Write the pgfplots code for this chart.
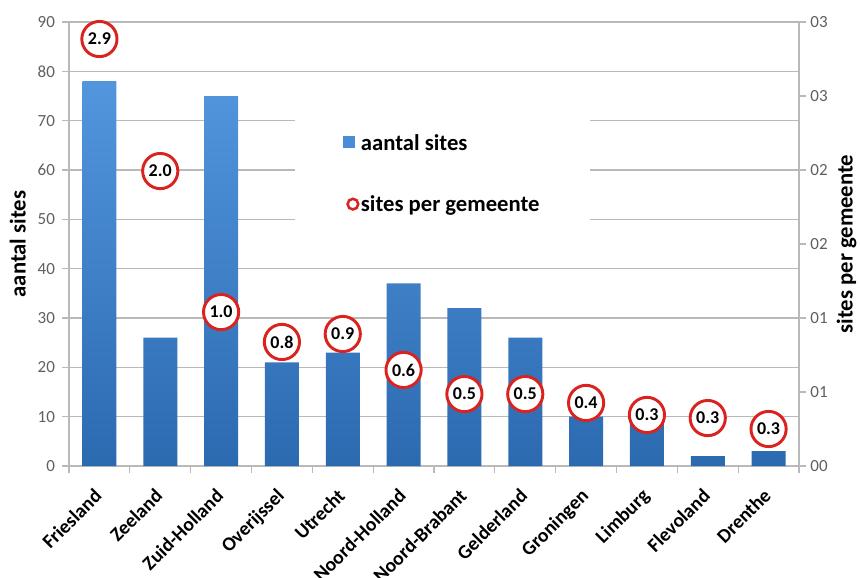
\documentclass[border=0pt]{standalone}
\usepackage{pgfplots}
\pgfplotsset{compat=1.18}
\usepackage{fontspec}
\setmainfont{Carlito}

\definecolor{barTop}{RGB}{82,150,222}
\definecolor{barBot}{RGB}{44,106,176}
\definecolor{ringRed}{RGB}{218,35,30}
\definecolor{gridGray}{RGB}{185,185,185}
\definecolor{tickGray}{RGB}{95,95,95}

% sites per province (left axis) and sites per municipality (right axis)
\pgfplotstableread{
x aantal perg lab
0 78 2.885 2.9
1 26 1.993 2.0
2 75 1.04  1.0
3 21 0.838 0.8
4 23 0.892 0.9
5 37 0.649 0.6
6 32 0.486 0.5
7 26 0.486 0.5
8 10 0.426 0.4
9 10 0.345 0.3
10 2 0.324 0.3
11 3 0.25  0.3
}\provdata

\begin{document}
\begin{tikzpicture}
\pgfplotsset{
  common/.style={
    width=547.5pt, height=333pt, scale only axis,
    xmin=-0.5, xmax=11.5,
    tick align=outside,
    axis line style={gridGray, line width=0.9pt},
    tick style={gridGray, line width=0.9pt},
    major tick length=5pt,
    tick label style={text=tickGray, font=\fontsize{12.75}{15}\selectfont},
    label style={font=\bfseries\fontsize{17}{20}\selectfont},
    /pgf/number format/assume math mode=true,
  }
}
\begin{axis}[
  common,
  axis x line*=bottom, axis y line*=left,
  ymin=0, ymax=90, ytick={0,10,...,90},
  ymajorgrids, grid style={gridGray, line width=1pt},
  xtick={0,...,11},
  xticklabels={Friesland,Zeeland,Zuid-Holland,Overijssel,Utrecht,Noord-Holland,Noord-Brabant,Gelderland,Groningen,Limburg,Flevoland,Drenthe},
  major x tick style={draw=none},
  minor xtick={-0.5,0.5,...,11.5},
  minor x tick style={gridGray, line width=0.9pt},
  minor tick length=5pt,
  xticklabel style={rotate=45, anchor=north east, text=black,
    font=\bfseries\fontsize{14.75}{17}\selectfont, xshift=-7.7pt, yshift=-1pt},
  yticklabel style={xshift=-2pt},
  ylabel={aantal sites},
  ylabel style={yshift=2pt},
]
\addplot[ybar, bar width=25.5pt, draw=none, top color=barTop, bottom color=barBot]
  table[x=x, y=aantal] {\provdata};
\end{axis}

\begin{axis}[
  common,
  axis y line*=right, axis x line=none,
  ymin=0, ymax=3, ytick={0,0.5,...,3},
  yticklabels={00,01,01,02,02,03,03},
  ylabel={sites per gemeente},
  legend style={at={(0.512,0.658)}, anchor=center, draw=none, fill=white,
    font=\bfseries\fontsize{17}{20}\selectfont, row sep=28pt,
    inner xsep=36pt, inner ysep=20pt},
  legend cell align=left,
]
\addlegendimage{legend image code/.code={\fill[barTop!80!barBot] (1.5pt,-3pt) rectangle (9.75pt,5.25pt);}}
\addlegendentry{aantal sites}
\addlegendimage{only marks, mark=*, mark size=4pt, mark options={fill=white, draw=ringRed, line width=1.9pt}}
\addlegendentry{sites per gemeente}
\addplot[forget plot, only marks, mark=*, mark size=13.2pt,
  mark options={fill=white, draw=ringRed, line width=2.2pt},
  nodes near coords, point meta=explicit symbolic,
  every node near coord/.append style={anchor=center, text=black,
    font=\bfseries\fontsize{13.5}{16}\selectfont}]
  table[x=x, y=perg, meta=lab] {\provdata};
\end{axis}
% page frame with the reference's margins round the plot area
\pgfresetboundingbox
\path ([shift={(-51.75pt,-84pt)}]current axis.south west)
  rectangle ([shift={(45.75pt,16.5pt)}]current axis.north east);
\end{tikzpicture}
\end{document}
